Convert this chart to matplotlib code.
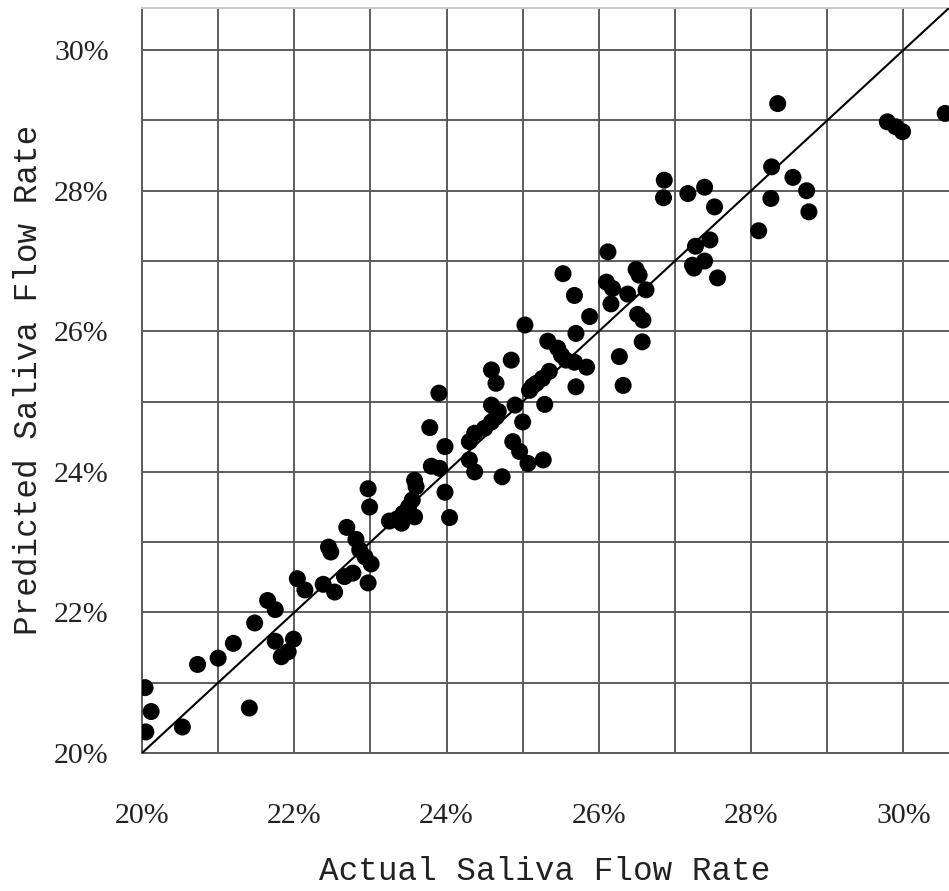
import matplotlib
matplotlib.use("Agg")
import matplotlib.pyplot as plt
import numpy as np
from matplotlib.ticker import MultipleLocator, FuncFormatter

actual = [20.04, 20.12, 20.05, 20.53, 20.73, 21.00, 21.20, 21.48, 21.41, 21.65,
          21.75, 21.75, 21.99, 21.83, 21.92, 22.04, 22.14, 22.97, 22.99, 22.69,
          22.81, 22.45, 22.48, 22.86, 22.93, 23.01, 22.97, 22.77, 22.66, 22.38,
          22.53, 23.25, 23.35, 23.90, 23.78, 23.98, 23.80, 23.91, 23.98, 23.58,
          23.60, 23.55, 23.50, 23.43, 23.41, 23.58, 24.04, 24.30, 24.37, 24.50,
          24.59, 24.65, 24.59, 24.68, 24.90, 24.30, 24.37, 24.73, 24.59, 24.65,
          24.85, 25.00, 24.87, 24.96, 25.07, 25.27, 25.09, 25.18, 25.03, 25.33,
          25.46, 25.51, 25.57, 25.68, 25.84, 25.35, 25.26, 25.70, 25.29, 25.68,
          25.88, 25.70, 26.16, 26.27, 26.32, 26.10, 26.12, 25.53, 26.18, 26.38,
          26.49, 26.53, 26.62, 26.51, 26.58, 26.57, 27.27, 27.46, 27.23, 27.39,
          27.56, 27.25, 28.35, 26.86, 26.85, 27.17, 27.39, 27.52, 28.27, 28.55,
          28.73, 28.26, 28.76, 28.10, 29.79, 29.90, 29.99, 30.55, 25.13]
predicted = [20.93, 20.59, 20.30, 20.37, 21.26, 21.35, 21.56, 21.85, 20.64, 22.17,
             22.04, 21.59, 21.62, 21.37, 21.44, 22.48, 22.32, 23.76, 23.50, 23.21,
             23.04, 22.93, 22.86, 22.89, 22.79, 22.69, 22.42, 22.56, 22.51, 22.40,
             22.29, 23.30, 23.33, 25.12, 24.63, 24.36, 24.08, 24.05, 23.71, 23.88,
             23.79, 23.60, 23.50, 23.41, 23.27, 23.36, 23.35, 24.43, 24.55, 24.62,
             24.71, 24.78, 24.95, 24.86, 24.95, 24.17, 24.00, 23.93, 25.45, 25.26,
             25.59, 24.71, 24.43, 24.29, 24.12, 24.17, 25.16, 25.26, 26.09, 25.86,
             25.76, 25.66, 25.59, 25.56, 25.49, 25.43, 25.33, 25.21, 24.96, 26.51,
             26.21, 25.97, 26.39, 25.64, 25.23, 26.70, 27.13, 26.82, 26.61, 26.53,
             26.88, 26.80, 26.59, 26.24, 26.16, 25.85, 27.21, 27.30, 26.94, 27.00,
             26.76, 26.90, 29.24, 28.15, 27.90, 27.96, 28.05, 27.77, 28.34, 28.19,
             28.00, 27.89, 27.70, 27.43, 28.98, 28.91, 28.84, 29.10, 25.22]

xticks = [20, 22, 24, 26, 28, 30]
yticks = [20, 22, 24, 26, 28, 30]
x_label = "Actual Saliva Flow Rate"
y_label = "Predicted Saliva Flow Rate"

W, H = 949, 891
fig = plt.figure(figsize=(W / 100, H / 100), dpi=100)
left = 142 / W
bottom = (H - 753) / H
top = (H - 8) / H
ax = fig.add_axes([left, bottom, 1.0 - left, top - bottom])

lim_lo, lim_hi = 20.0, 30.6
ax.set_xlim(lim_lo, lim_hi)
ax.set_ylim(lim_lo, lim_hi)

grid_c = "#5c5c5c"
ax.xaxis.set_major_locator(MultipleLocator(2))
ax.yaxis.set_major_locator(MultipleLocator(2))
ax.xaxis.set_minor_locator(MultipleLocator(1))
ax.yaxis.set_minor_locator(MultipleLocator(1))
ax.grid(True, which="both", color=grid_c, lw=1.4, zorder=0)
ax.set_axisbelow(True)

ax.scatter(actual, predicted, s=150, color="black", edgecolors="none", zorder=3)
ax.plot([lim_lo, lim_hi], [lim_lo, lim_hi], color="black", lw=1.5, zorder=4)

ax.set_xticks(xticks)
ax.set_yticks(yticks)
fmt = FuncFormatter(lambda v, p: f"{v:.0f}%")
ax.xaxis.set_major_formatter(fmt)
ax.yaxis.set_major_formatter(fmt)
ax.tick_params(which="both", length=0)
ax.tick_params(axis="x", pad=36, labelsize=21.5, labelcolor="#222222")
ax.tick_params(axis="y", pad=24, labelsize=21.5, labelcolor="#222222")
for lab in ax.get_xticklabels() + ax.get_yticklabels():
    lab.set_family("Liberation Serif")

for s in ["left", "bottom"]:
    ax.spines[s].set_color(grid_c)
    ax.spines[s].set_linewidth(1.4)
ax.spines["top"].set_color("#c8c8c8")
ax.spines["top"].set_linewidth(1.4)
ax.spines["right"].set_visible(False)

fig.text(545 / W, 1 - 872 / H, x_label, ha="center", va="center",
         fontsize=23.5, family="Liberation Mono", color="#222222")
fig.text(29 / W, 1 - 380 / H, y_label, ha="center", va="center", rotation=90,
         fontsize=23.5, family="Liberation Mono", color="#222222")

fig.savefig("out.png", dpi=100)
